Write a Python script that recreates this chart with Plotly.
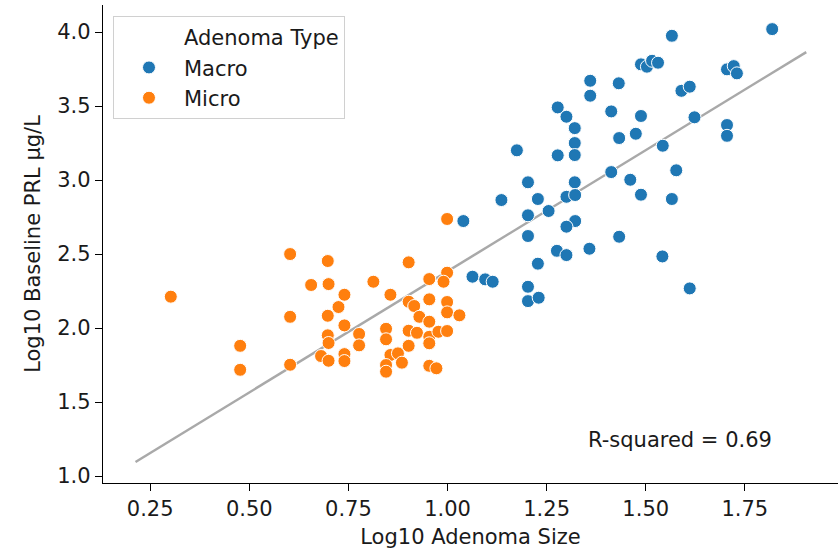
import plotly.graph_objects as go

# Macro adenomas (Log10 size, Log10 baseline PRL)
macro_x = [1.819, 1.566, 1.488, 1.503, 1.516, 1.531, 1.705, 1.722, 1.730, 1.590,
           1.611, 1.432, 1.360, 1.360, 1.488, 1.623, 1.705, 1.705, 1.475, 1.433,
           1.543, 1.278, 1.300, 1.413, 1.321, 1.321, 1.175, 1.278, 1.321, 1.577,
           1.461, 1.413, 1.203, 1.321, 1.488, 1.566, 1.136, 1.228, 1.300, 1.322,
           1.203, 1.255, 1.322, 1.300, 1.040, 1.203, 1.433, 1.276, 1.300, 1.358,
           1.542, 1.228, 1.063, 1.095, 1.114, 1.203, 1.611, 1.203, 1.230]
macro_y = [4.020, 3.975, 3.782, 3.766, 3.806, 3.793, 3.748, 3.770, 3.721, 3.603,
           3.631, 3.654, 3.671, 3.570, 3.433, 3.424, 3.372, 3.299, 3.313, 3.284,
           3.232, 3.491, 3.428, 3.464, 3.351, 3.250, 3.201, 3.167, 3.169, 3.066,
           3.002, 3.054, 2.985, 2.985, 2.901, 2.872, 2.865, 2.872, 2.887, 2.899,
           2.762, 2.791, 2.723, 2.685, 2.723, 2.622, 2.617, 2.522, 2.493, 2.536,
           2.484, 2.435, 2.347, 2.329, 2.313, 2.279, 2.268, 2.182, 2.205]

# Micro adenomas
micro_x = [0.302, 0.603, 0.656, 0.603, 0.477, 0.477, 0.603, 0.999, 0.698, 0.902,
           0.700, 0.813, 0.954, 0.999, 0.990, 0.740, 0.856, 0.725, 0.902, 0.916,
           0.954, 0.999, 0.999, 1.030, 0.698, 0.929, 0.954, 0.740, 0.698, 0.700,
           0.777, 0.777, 0.845, 0.845, 0.902, 0.923, 0.954, 0.954, 0.977, 0.999,
           0.902, 0.681, 0.700, 0.740, 0.740, 0.856, 0.875, 0.885, 0.845, 0.845,
           0.954, 0.972]
micro_y = [2.212, 2.500, 2.291, 2.076, 1.880, 1.718, 1.752, 2.737, 2.453, 2.444,
           2.297, 2.313, 2.331, 2.374, 2.313, 2.225, 2.225, 2.142, 2.178, 2.149,
           2.194, 2.176, 2.106, 2.086, 2.083, 2.076, 2.043, 2.018, 1.951, 1.899,
           1.960, 1.883, 1.995, 1.924, 1.982, 1.968, 1.941, 1.897, 1.975, 1.980,
           1.880, 1.811, 1.779, 1.824, 1.777, 1.818, 1.829, 1.766, 1.750, 1.705,
           1.745, 1.728]

# Regression line endpoints
fit_x = [0.213, 1.905]
fit_y = [1.095, 3.865]

r2_label = "R-squared = 0.69"
legend_title = "Adenoma Type"
group_names = ["Macro", "Micro"]

FONT = "DejaVu Sans"
FS = 21
BLUE = "#1f77b4"
ORANGE = "#ff7f0e"

fig = go.Figure()

fig.add_trace(go.Scatter(
    x=fit_x, y=fit_y, mode="lines",
    line=dict(color="#a9a9a9", width=2.5),
    showlegend=False, hoverinfo="skip"))

fig.add_trace(go.Scatter(
    x=[None], y=[None], mode="markers", name=legend_title,
    marker=dict(color="rgba(0,0,0,0)", size=14)))

fig.add_trace(go.Scatter(
    x=macro_x, y=macro_y, mode="markers", name=group_names[0],
    marker=dict(color=BLUE, size=13, line=dict(color="white", width=1))))

fig.add_trace(go.Scatter(
    x=micro_x, y=micro_y, mode="markers", name=group_names[1],
    marker=dict(color=ORANGE, size=13, line=dict(color="white", width=1))))

fig.add_annotation(
    x=1.35, y=1.243, xref="x", yref="y", text=r2_label, showarrow=False,
    xanchor="left", yanchor="middle", font=dict(family=FONT, size=FS, color="#1a1a1a"))

axis_common = dict(
    showline=True, linecolor="black", linewidth=1.3, mirror=False,
    showgrid=False, zeroline=False,
    ticks="outside", ticklen=7, tickwidth=1.3, tickcolor="black",
    tickfont=dict(family=FONT, size=FS, color="#1a1a1a"),
)

fig.update_layout(
    width=840, height=550,
    margin=dict(l=103, r=2, t=5, b=67),
    paper_bgcolor="white", plot_bgcolor="white",
    font=dict(family=FONT, size=FS, color="#1a1a1a"),
    xaxis=dict(range=[0.131, 1.985], tickvals=[0.25, 0.5, 0.75, 1.0, 1.25, 1.5, 1.75],
               ticktext=["0.25", "0.50", "0.75", "1.00", "1.25", "1.50", "1.75"],
               title=dict(text="Log10 Adenoma Size", font=dict(family=FONT, size=FS), standoff=8),
               **axis_common),
    yaxis=dict(range=[0.953, 4.183], tickvals=[1.0, 1.5, 2.0, 2.5, 3.0, 3.5, 4.0],
               ticktext=["1.0", "1.5", "2.0", "2.5", "3.0", "3.5", "4.0"],
               title=dict(text="Log10 Baseline PRL μg/L", font=dict(family=FONT, size=FS), standoff=10),
               **axis_common),
    legend=dict(x=0.0136, y=0.977, xanchor="left", yanchor="top",
                bgcolor="white", bordercolor="#d0d0d0", borderwidth=1,
                font=dict(family=FONT, size=FS, color="#1a1a1a"),
                itemwidth=60, itemsizing="trace"),
    showlegend=True,
)

fig.write_html("out.html")
